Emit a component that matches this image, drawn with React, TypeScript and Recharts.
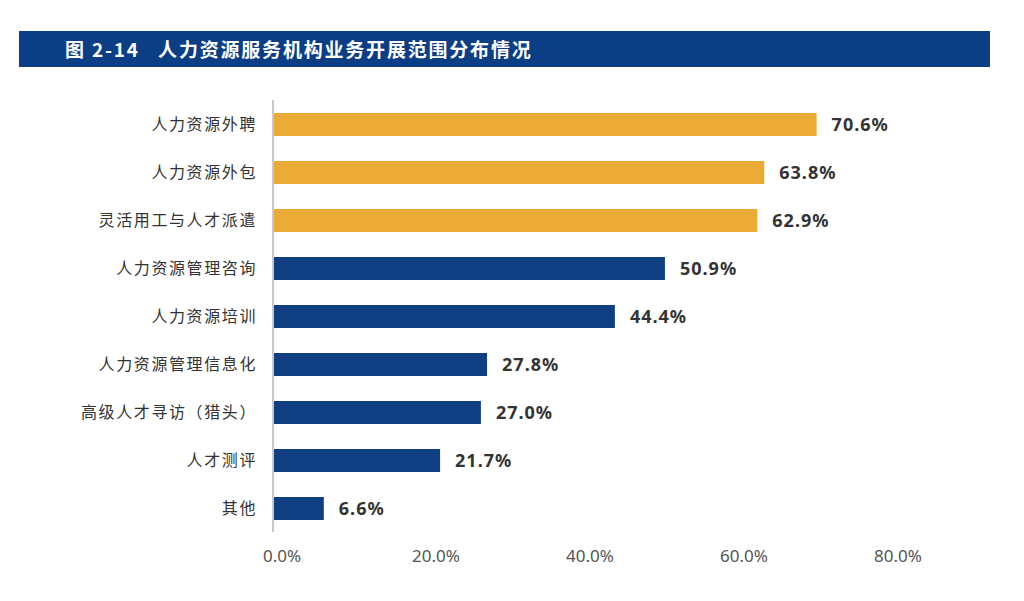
import React from "react";
import { BarChart, Bar, XAxis, YAxis, Cell, LabelList } from "recharts";

const categories = [
  "人力资源外聘",
  "人力资源外包",
  "灵活用工与人才派遣",
  "人力资源管理咨询",
  "人力资源培训",
  "人力资源管理信息化",
  "高级人才寻访（猎头）",
  "人才测评",
  "其他",
];
const values = [70.6, 63.8, 62.9, 50.9, 44.4, 27.8, 27.0, 21.7, 6.6];
const highlighted = [true, true, true, false, false, false, false, false, false];
const xTicks = [0, 20, 40, 60, 80];
const title = "图 2-14   人力资源服务机构业务开展范围分布情况";

const GOLD = "#EAAA35";
const NAVY = "#0F3F82";

const data = categories.map((name, i) => ({ name, value: values[i], hi: highlighted[i] }));

const ValueLabel = (props: any) => {
  const { x, y, width, height, value } = props;
  return (
    <text
      x={x + width + 15}
      y={y + height / 2}
      dy="0.36em"
      fill="#333"
      fontSize={18}
      fontWeight={700}
      fontFamily="'Noto Sans', sans-serif"
      letterSpacing={1}
    >
      {value.toFixed(1)}%
    </text>
  );
};

const XTick = (props: any) => {
  const { x, y, payload } = props;
  return (
    <text x={x + 9} y={y} dy="0.71em" textAnchor="middle" fill="#555" fontSize={17} fontFamily="'Noto Sans', sans-serif">
      {payload.value.toFixed(1)}%
    </text>
  );
};

const YTick = (props: any) => {
  const { x, y, payload } = props;
  return (
    <text x={x} y={y} dy="0.36em" textAnchor="end" fill="#333" fontSize={16} letterSpacing={1.6} fontFamily="'Noto Sans CJK SC', sans-serif">
      {payload.value}
    </text>
  );
};

export default function App() {
  return (
    <div style={{ position: "absolute", left: 0, top: 0, width: 1024, height: 601, background: "#fff" }}>
      <div
        style={{
          position: "absolute",
          left: 19,
          top: 31,
          width: 971,
          height: 36,
          background: "#0C3E86",
          color: "#fff",
          fontFamily: "'Noto Sans CJK SC', sans-serif",
          fontWeight: 700,
          fontSize: 19,
          lineHeight: "36px",
          paddingLeft: 46,
          boxSizing: "border-box",
          letterSpacing: 1.8,
          whiteSpace: "pre",
        }}
      >
        {title}
      </div>
      <div style={{ position: "absolute", left: 0, top: 0 }}>
        <BarChart
          width={1024}
          height={601}
          layout="vertical"
          data={data}
          margin={{ top: 100, right: 135, bottom: 39, left: 0 }}
          barSize={23}
        >
          <XAxis
            type="number"
            domain={[0, 80]}
            ticks={xTicks}
            axisLine={false}
            tickLine={false}
            tickSize={0}
            tickMargin={18}
            height={30}
            tick={<XTick />}
            interval={0}
          />
          <YAxis
            type="category"
            dataKey="name"
            width={273}
            axisLine={{ stroke: "#c8c8c8", strokeWidth: 2 }}
            tickLine={false}
            tickSize={0}
            tickMargin={16}
            tick={<YTick />}
            interval={0}
          />
          <Bar dataKey="value" isAnimationActive={false}>
            {data.map((d, i) => (
              <Cell key={i} fill={d.hi ? GOLD : NAVY} />
            ))}
            <LabelList dataKey="value" content={<ValueLabel />} />
          </Bar>
        </BarChart>
      </div>
    </div>
  );
}
